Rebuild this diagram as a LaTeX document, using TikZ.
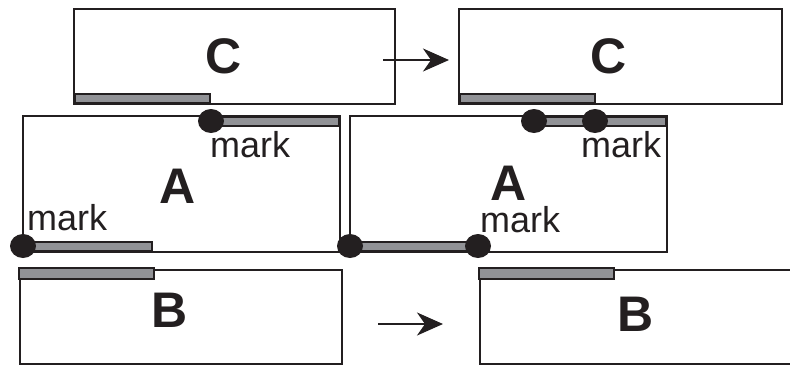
\documentclass[tikz,border=0pt]{standalone}
\usepackage{fontspec}
\setmainfont{Liberation Sans}
\usetikzlibrary{arrows.meta}

\definecolor{ink}{RGB}{35,31,32}
\definecolor{bargrey}{RGB}{145,146,150}

\tikzset{
  boxline/.style={draw=ink, line width=2pt},
  markbar/.style={draw=ink, fill=bargrey, line width=2pt},
  pindot/.style={fill=ink},
  boxlabel/.style={font=\fontsize{50}{50}\selectfont\bfseries, text=ink, inner sep=0pt},
  marklabel/.style={font=\fontsize{36}{36}\selectfont, text=ink, inner sep=0pt, anchor=base west},
  movearrow/.style={draw=ink, line width=2pt, -{Stealth[length=26pt,width=23pt,inset=8pt]}}
}

\begin{document}
\begin{tikzpicture}[x=1pt, y=-1pt]
  \useasboundingbox (0,0) rectangle (790,365);
  \draw[boxline] (74,9) rectangle (395,104);
  \draw[boxline] (23,116) rectangle (340,252);
  \draw[boxline] (20,270) rectangle (342,364);
  \draw[boxline] (459,9) rectangle (782,104);
  \draw[boxline] (350,116) rectangle (667,252);
  \draw[boxline] (790,270) -- (480,270) -- (480,364) -- (790,364);

  \draw[markbar] (75,94) rectangle (210,103);
  \draw[markbar] (211,117) rectangle (339,126);
  \draw[markbar] (24,242) rectangle (152,251);
  \draw[markbar] (19,268) rectangle (154,279);
  \draw[markbar] (460,94) rectangle (595,103);
  \draw[markbar] (534,117) rectangle (666,126);
  \draw[markbar] (351,242) rectangle (478,251);
  \draw[markbar] (479,268) rectangle (614,279);

  \fill[pindot] (211,121) ellipse (13 and 12);
  \fill[pindot] (23,246) ellipse (13 and 12);
  \fill[pindot] (534,121) ellipse (13 and 12);
  \fill[pindot] (595,121) ellipse (13 and 12);
  \fill[pindot] (350,246) ellipse (13 and 12);
  \fill[pindot] (478,246) ellipse (13 and 12);

  \node[boxlabel] (leftC) at (224,56) {C};
  \node[boxlabel] (leftA) at (178,186) {A};
  \node[boxlabel] (leftB) at (170,310) {B};
  \node[boxlabel] (rightC) at (609,56) {C};
  \node[boxlabel] (rightA) at (509,183) {A};
  \node[boxlabel] (rightB) at (636,314) {B};

  \node[marklabel] (leftmarktop) at (210,157) {mark};
  \node[marklabel] (leftmarkbottom) at (27,230) {mark};
  \node[marklabel] (rightmarktop) at (581,157) {mark};
  \node[marklabel] (rightmarkbottom) at (480,232) {mark};

  \coordinate (topfrom) at (383,60);
  \coordinate (topto) at (449,60);
  \coordinate (bottomfrom) at (378,324);
  \coordinate (bottomto) at (443,324);
  \draw[movearrow] (topfrom) -- (topto);
  \draw[movearrow] (bottomfrom) -- (bottomto);
\end{tikzpicture}
\end{document}
